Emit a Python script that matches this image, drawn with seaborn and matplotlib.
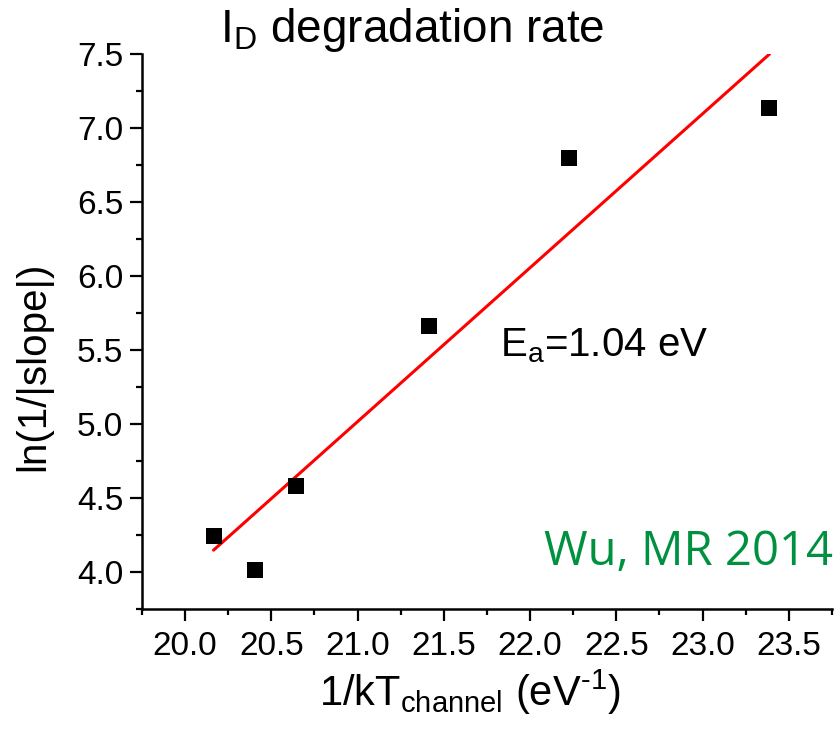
import numpy as np
import pandas as pd
import matplotlib
matplotlib.use("Agg")
import matplotlib.pyplot as plt
from matplotlib.ticker import MultipleLocator
import seaborn as sns

# Arrhenius data: inverse channel temperature vs. log of inverse degradation slope
inv_kT = [20.165, 20.405, 20.645, 21.414, 22.227, 23.388]
ln_inv_slope = [4.241, 4.014, 4.580, 5.662, 6.799, 7.134]

# Activation energy from the linear fit (slope of the Arrhenius line)
activation_energy = 1.04

x_ticks = [20.0, 20.5, 21.0, 21.5, 22.0, 22.5, 23.0, 23.5]
y_ticks = [4.0, 4.5, 5.0, 5.5, 6.0, 6.5, 7.0, 7.5]

df = pd.DataFrame({"x": inv_kT, "y": ln_inv_slope})

# Fit line with the stated slope, passing through the centroid of the data
x_mean, y_mean = np.mean(inv_kT), np.mean(ln_inv_slope)
fit_x = [min(inv_kT), max(inv_kT)]
fit_df = pd.DataFrame({
    "x": fit_x,
    "y": [y_mean + activation_energy * (v - x_mean) for v in fit_x],
})

sns.set_theme(style="ticks")
plt.rcParams.update({
    "font.family": ["Liberation Sans", "DejaVu Sans"],
    "mathtext.fontset": "custom",
    "mathtext.rm": "Liberation Sans",
    "mathtext.it": "Liberation Sans:italic",
    "mathtext.bf": "Liberation Sans:bold",
    "text.color": "black",
    "axes.labelcolor": "black",
    "axes.edgecolor": "black",
    "axes.linewidth": 1.8,
    "xtick.color": "black",
    "ytick.color": "black",
    "xtick.labelcolor": "black",
    "ytick.labelcolor": "black",
})

fig = plt.figure(figsize=(8.4, 7.29), dpi=100)
ax = fig.add_axes([0.169, 0.1646, 0.8214, 0.7613])

sns.lineplot(data=fit_df, x="x", y="y", ax=ax, color="#ff0000", linewidth=2.2)
sns.scatterplot(data=df, x="x", y="y", ax=ax, marker="s", s=130,
                color="black", linewidth=0, zorder=3)

ax.set_xlim(19.75, 23.75)
ax.set_ylim(3.75, 7.5)
ax.set_xticks(x_ticks)
ax.set_yticks(y_ticks)
ax.set_xticklabels([f"{v:.1f}" for v in x_ticks])
ax.set_yticklabels([f"{v:.1f}" for v in y_ticks])
ax.xaxis.set_minor_locator(MultipleLocator(0.25))
ax.yaxis.set_minor_locator(MultipleLocator(0.25))
ax.tick_params(which="major", direction="out", length=8.5, width=1.6,
               labelsize=24)
ax.tick_params(axis="x", which="major", pad=7)
ax.tick_params(axis="y", which="major", pad=5)
ax.tick_params(which="minor", direction="out", length=4.2, width=1.6)

for side in ("top", "right"):
    ax.spines[side].set_visible(False)

ax.set_xlabel(r"1/kT$_\mathregular{channel}$ (eV$^{\text{-1}}$)", fontsize=30)
ax.xaxis.set_label_coords(0.475, -0.105)
ax.set_ylabel("ln(1/|slope|)", fontsize=29)
ax.yaxis.set_label_coords(-0.13, 0.438)

fig.text(0.4905, 0.9424, r"$\mathregular{I_D}$ degradation rate",
         fontsize=33, ha="center", va="baseline")

ax.text(21.825, 5.46, r"E$_\mathregular{a}$=1.04 eV", fontsize=29,
        ha="left", va="baseline")

ax.text(1.001, 0.079, "Wu, MR 2014", transform=ax.transAxes, fontsize=34,
        family=["Open Sans", "DejaVu Sans"], color="#009140",
        ha="right", va="baseline")

fig.savefig("out.png", dpi=100)
